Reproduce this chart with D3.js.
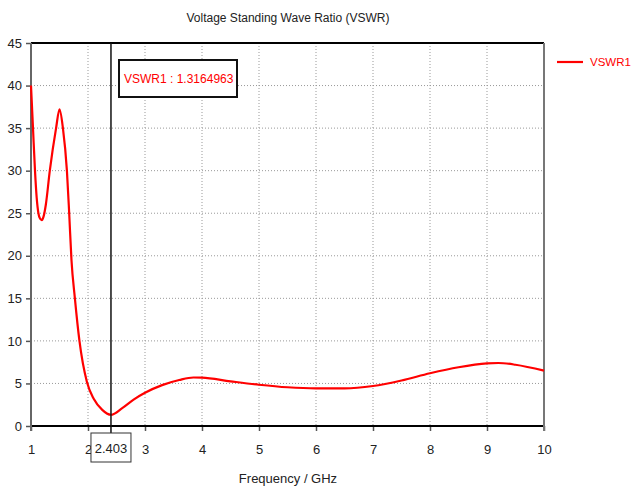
<!DOCTYPE html>
<html>
<head>
<meta charset="utf-8">
<script src="https://cdn.jsdelivr.net/npm/d3@7"></script>
<style>
  body { margin: 0; background: #fff; }
  svg text { font-family: "Liberation Sans", Arial, sans-serif; }
</style>
</head>
<body>
<svg id="chart" width="632" height="488"></svg>
<script>
// Data: frequency (GHz) and VSWR.
var freqGHz = [1.00, 1.035, 1.07, 1.10, 1.13, 1.16, 1.19, 1.22, 1.26, 1.33, 1.44, 1.50, 1.56, 1.63, 1.67, 1.71, 1.77, 1.85, 1.98,
               2.10, 2.25, 2.403, 2.60, 2.80, 3.00, 3.30, 3.60, 3.85, 4.00, 4.50, 5.00, 5.50, 6.00, 6.50,
               7.00, 7.50, 8.00, 8.50, 9.00, 9.20, 9.50, 10.0];
var vswr = [40.0, 35.0, 30.0, 26.8, 25.0, 24.35, 24.2, 24.6, 26.0, 30.0, 35.0, 37.2, 35.0, 30.0, 25.0, 19.5, 15.0, 10.0, 5.2,
            3.2, 1.9, 1.32, 2.1, 3.1, 3.9, 4.8, 5.4, 5.7, 5.68, 5.25, 4.85, 4.55, 4.42, 4.42,
            4.7, 5.35, 6.2, 6.9, 7.35, 7.4, 7.2, 6.5];
var xTicks = [1, 2, 3, 4, 5, 6, 7, 8, 9, 10];
var yTicks = [0, 5, 10, 15, 20, 25, 30, 35, 40, 45];
var markerFreq = 2.403;
var markerLabel = 'VSWR1 : 1.3164963';
var seriesName = 'VSWR1';

var svg = d3.select('#chart'),
    plot = { left: 31, top: 43, right: 544, bottom: 426 },
    red = '#ff0000';

var x = d3.scaleLinear().domain([1, 10]).range([plot.left, plot.right]);
var y = d3.scaleLinear().domain([0, 45]).range([plot.bottom, plot.top]);

// Dotted grid.
svg.append('g')
    .selectAll('line')
    .data(xTicks.slice(1, -1))
    .join('line')
    .attr('x1', d => x(d)).attr('x2', d => x(d))
    .attr('y1', plot.top).attr('y2', plot.bottom)
    .attr('stroke', '#999').attr('stroke-width', 1).attr('stroke-dasharray', '1,2');
svg.append('g')
    .selectAll('line')
    .data(yTicks.slice(1, -1))
    .join('line')
    .attr('x1', plot.left).attr('x2', plot.right)
    .attr('y1', d => y(d)).attr('y2', d => y(d))
    .attr('stroke', '#999').attr('stroke-width', 1).attr('stroke-dasharray', '1,2');

// Axes.
var xAxis = svg.append('g')
    .attr('transform', 'translate(0,' + plot.bottom + ')')
    .call(d3.axisBottom(x).tickValues(xTicks).tickFormat(d3.format('d')).tickSize(5).tickPadding(14));
var yAxis = svg.append('g')
    .attr('transform', 'translate(' + plot.left + ',0)')
    .call(d3.axisLeft(y).tickValues(yTicks).tickSize(5).tickPadding(4));
[xAxis, yAxis].forEach(function (ax) {
    ax.select('.domain').remove();
    ax.selectAll('.tick line').attr('stroke', '#555').attr('stroke-width', 1.5);
    ax.selectAll('text').attr('font-size', 13).attr('fill', '#222');
});

// Frame.
svg.append('line').attr('x1', plot.left).attr('x2', plot.right).attr('y1', plot.top).attr('y2', plot.top)
    .attr('stroke', '#000').attr('stroke-width', 2);
svg.append('line').attr('x1', plot.left).attr('x2', plot.right).attr('y1', plot.bottom).attr('y2', plot.bottom)
    .attr('stroke', '#000').attr('stroke-width', 2);
svg.append('line').attr('x1', plot.left).attr('x2', plot.left).attr('y1', plot.top).attr('y2', plot.bottom + 5)
    .attr('stroke', '#666').attr('stroke-width', 2);
svg.append('line').attr('x1', plot.right).attr('x2', plot.right).attr('y1', plot.top).attr('y2', plot.bottom + 5)
    .attr('stroke', '#777').attr('stroke-width', 2);

// Curve.
var line = d3.line()
    .x((d, i) => x(freqGHz[i]))
    .y(d => y(d))
    .curve(d3.curveMonotoneX);
svg.append('path')
    .datum(vswr)
    .attr('d', line)
    .attr('fill', 'none')
    .attr('stroke', red)
    .attr('stroke-width', 2.2);

// Marker line and labels.
svg.append('line')
    .attr('x1', x(markerFreq)).attr('x2', x(markerFreq))
    .attr('y1', plot.top).attr('y2', plot.bottom + 8)
    .attr('stroke', '#111').attr('stroke-width', 1.5);

var mg = svg.append('g').attr('transform', 'translate(' + x(markerFreq) + ',' + (plot.bottom + 22) + ')');
mg.append('rect').attr('x', -20).attr('y', -15).attr('width', 40).attr('height', 29)
    .attr('fill', '#fff').attr('stroke', '#333').attr('stroke-width', 1);
mg.append('text').attr('text-anchor', 'middle').attr('y', 5).attr('font-size', 13).attr('fill', '#222').text(markerFreq);

var box = svg.append('g').attr('transform', 'translate(119,60)');
box.append('rect').attr('width', 118).attr('height', 37)
    .attr('fill', '#fff').attr('stroke', '#111').attr('stroke-width', 2);
box.append('text').attr('x', 5).attr('y', 23).attr('font-size', 12).attr('fill', red).text(markerLabel);

// Legend.
svg.append('line').attr('x1', 557).attr('x2', 583).attr('y1', 62).attr('y2', 62)
    .attr('stroke', red).attr('stroke-width', 2.2);
svg.append('text').attr('x', 590).attr('y', 66).attr('font-size', 11.5).attr('fill', red).text(seriesName);

// Titles.
svg.append('text').attr('x', 288).attr('y', 22).attr('text-anchor', 'middle')
    .attr('font-size', 12).attr('fill', '#222').text('Voltage Standing Wave Ratio (VSWR)');
svg.append('text').attr('x', 288).attr('y', 483).attr('text-anchor', 'middle')
    .attr('font-size', 13).attr('fill', '#222').text('Frequency / GHz');
</script>
</body>
</html>
